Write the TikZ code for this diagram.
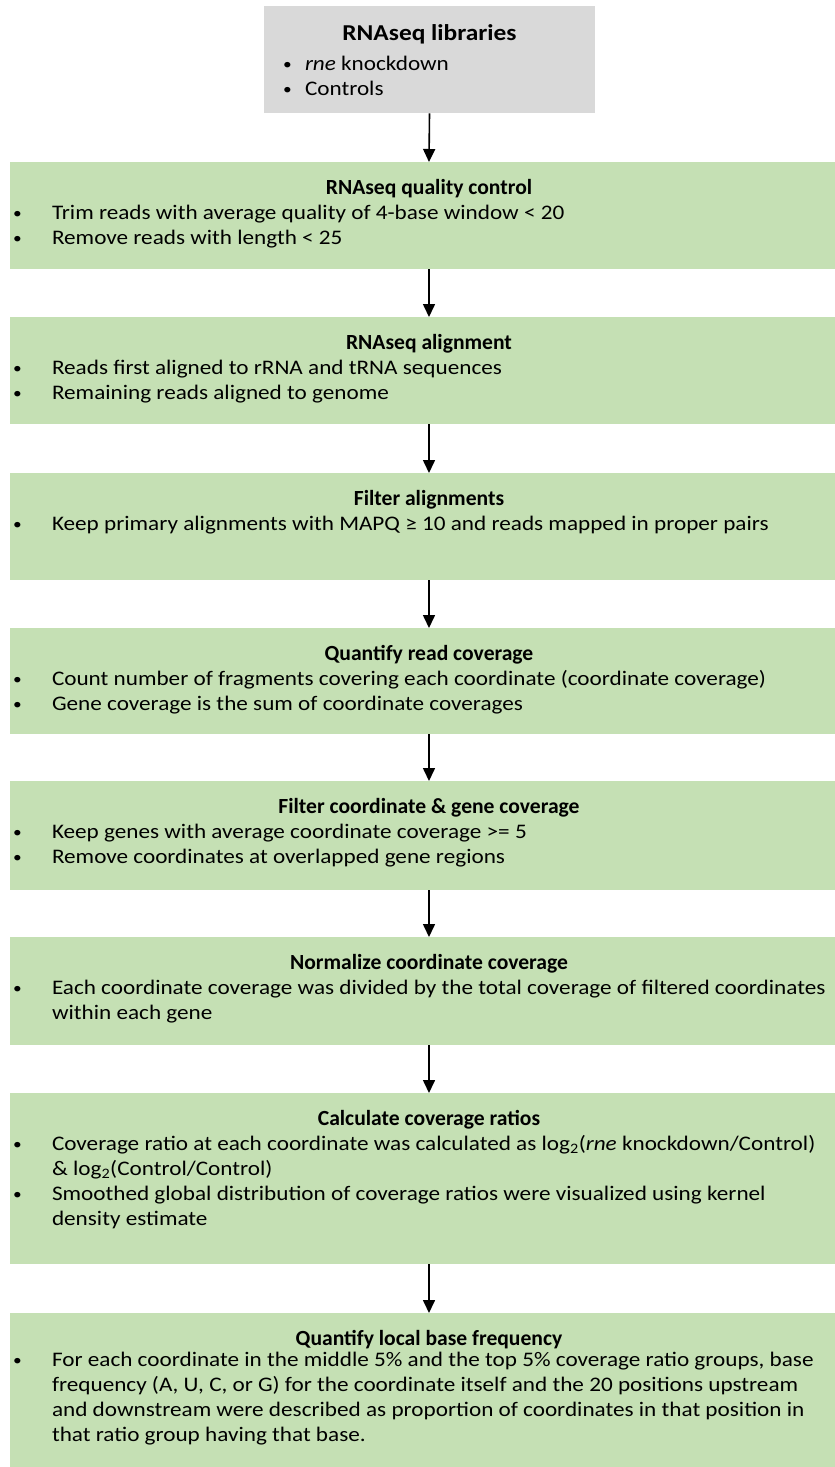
\documentclass[tikz,border=0pt]{standalone}
\usepackage{fontspec}
\setmainfont{Carlito}[FakeStretch=1.12]
\newfontfamily\headfont{Carlito}
\usepackage{graphicx}
\usepackage{xcolor}
\usetikzlibrary{arrows.meta}

\definecolor{stepgreen}{HTML}{C5E0B4}
\definecolor{libgray}{HTML}{D9D9D9}

% heading line and bullet line inside a box
\newcommand{\stephead}[1]{{\centering\headfont\fontsize{21.6pt}{25pt}\selectfont\bfseries\strut#1\par}}
\newcommand{\stepitem}[2][42pt]{\hangindent=#1\hangafter=1\noindent\makebox[#1][l]{\hspace{3pt}\raisebox{1pt}{\scalebox{0.75}{\textbullet}}}#2\par}
\newcommand{\boxtext}[3]{\parbox[t][#2][t]{#1}{\vspace{15pt}\raggedright#3}}

\begin{document}
\begin{tikzpicture}[x=1pt,y=-1pt,
  font=\fontsize{20.7pt}{25pt}\selectfont,
  stepbox/.style={fill=stepgreen,inner sep=0pt,anchor=north},
  libbox/.style={fill=libgray,inner sep=0pt,inner xsep=16pt,anchor=north},
  flow/.style={line width=1.6pt,-{Triangle[width=12pt,length=13pt]}}]
\useasboundingbox (0,0) rectangle (835,1467);

\node[libbox] (lib) at (429.5,6) {\boxtext{299pt}{107pt}{%
  \vspace{2pt}{\centering\fontsize{22.7pt}{25pt}\selectfont\bfseries\strut RNAseq libraries\par}\vspace{5pt}
  \stepitem[25pt]{\textit{rne} knockdown}
  \stepitem[25pt]{Controls}}};

\node[stepbox] (qc) at (429,162) {\boxtext{838pt}{107pt}{%
  \stephead{RNAseq quality control}
  \stepitem{Trim reads with average quality of 4-base window < 20}
  \stepitem{Remove reads with length < 25}}};

\node[stepbox] (aln) at (429,317) {\boxtext{838pt}{107pt}{%
  \stephead{RNAseq alignment}
  \stepitem{Reads first aligned to rRNA and tRNA sequences}
  \stepitem{Remaining reads aligned to genome}}};

\node[stepbox] (filt) at (429,473) {\boxtext{838pt}{107pt}{%
  \stephead{Filter alignments}
  \stepitem{Keep primary alignments with MAPQ ≥ 10 and reads mapped in proper pairs}}};

\node[stepbox] (cov) at (429,628) {\boxtext{838pt}{106pt}{%
  \stephead{Quantify read coverage}
  \stepitem{Count number of fragments covering each coordinate (coordinate coverage)}
  \stepitem{Gene coverage is the sum of coordinate coverages}}};

\node[stepbox] (fcov) at (429,781) {\boxtext{838pt}{109pt}{%
  \stephead{Filter coordinate \& gene coverage}
  \stepitem{Keep genes with average coordinate coverage >= 5}
  \stepitem{Remove coordinates at overlapped gene regions}}};

\node[stepbox] (norm) at (429,937) {\boxtext{838pt}{108pt}{%
  \stephead{Normalize coordinate coverage}
  \stepitem{Each coordinate coverage was divided by the total coverage of filtered coordinates\newline
    within each gene}}};

\node[stepbox] (ratio) at (429,1093) {\boxtext{838pt}{171pt}{%
  \stephead{Calculate coverage ratios}
  \stepitem{Coverage ratio at each coordinate was calculated as log\textsubscript{2}(\textit{rne} knockdown/Control)\newline
    \& log\textsubscript{2}(Control/Control)}
  \stepitem{Smoothed global distribution of coverage ratios were visualized using kernel\newline
    density estimate}}};

\node[stepbox] (freq) at (429,1313) {\boxtext{838pt}{170pt}{%
  \stephead{Quantify local base frequency}\vspace{-4pt}
  \stepitem{For each coordinate in the middle 5\% and the top 5\% coverage ratio groups, base\newline
    frequency (A, U, C, or G) for the coordinate itself and the 20 positions upstream\newline
    and downstream were described as proportion of coordinates in that position in\newline
    that ratio group having that base.}}};

\foreach \a/\b in {lib/qc,qc/aln,aln/filt,filt/cov,cov/fcov,fcov/norm,norm/ratio,ratio/freq}
  \draw[flow] (\a.south) -- (\b.north);
\end{tikzpicture}
\end{document}
